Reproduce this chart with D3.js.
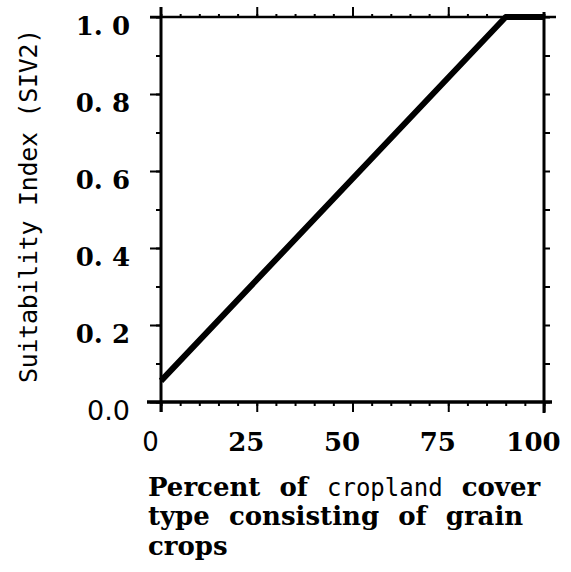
<!DOCTYPE html>
<html>
<head>
<meta charset="utf-8">
<script src="https://d3js.org/d3.v7.min.js"></script>
<style>
  body { margin: 0; background: #fff; }
  svg { display: block; }
</style>
</head>
<body>
<div id="chart"></div>
<script>
// data
var xValues = [0, 90, 100];
var yValues = [0.055, 1.0, 1.0];

var xTicks = [0, 25, 50, 75, 100];
var xTickLabels = ["0", "25", "50", "75", "100"];
var xMinor = d3.range(0, 101, 5);
var yTicks = [0, 0.2, 0.4, 0.6, 0.8, 1.0];
var yTickLabels = ["0.0", "0. 2", "0. 4", "0. 6", "0. 8", "1. 0"];
var yMinor = d3.range(0, 11, 1).map(d => d / 10);

var svgWidth = 571;
var svgHeight = 572;

var svg = d3.select("#chart")
    .append("svg")
    .attr("width", svgWidth)
    .attr("height", svgHeight);

var x = d3.scaleLinear().domain([0, 100]).range([161, 544]);
var y = d3.scaleLinear().domain([0, 1]).range([402, 17]);

var boldFont = "'DejaVu Serif', serif";
var monoFont = "'DejaVu Sans Mono', monospace";
var plainFont = "'DejaVu Sans', sans-serif";

// minor ticks
svg.append("g")
    .attr("transform", `translate(0, ${y(0)})`)
    .call(d3.axisBottom(x).tickValues(xMinor).tickSize(4).tickFormat(""));
svg.append("g")
    .attr("transform", `translate(0, ${y(1)})`)
    .call(d3.axisTop(x).tickValues(xMinor).tickSize(3).tickFormat(""));
svg.append("g")
    .attr("transform", `translate(${x(0)}, 0)`)
    .call(d3.axisLeft(y).tickValues(yMinor).tickSize(5).tickFormat(""));
svg.append("g")
    .attr("transform", `translate(${x(100)}, 0)`)
    .call(d3.axisRight(y).tickValues(yMinor).tickSize(6).tickFormat(""));

// major ticks + labels
var bottomAxis = svg.append("g")
    .attr("transform", `translate(0, ${y(0)})`)
    .call(d3.axisBottom(x).tickValues(xTicks).tickSize(10).tickPadding(21)
        .tickFormat((d, i) => xTickLabels[i]));

bottomAxis.selectAll("text")
    .attr("dx", -11)
    .attr("dy", 18)
    .style("font-family", (d, i) => i === 0 ? plainFont : boldFont)
    .style("font-weight", (d, i) => i === 0 ? "normal" : "bold")
    .style("font-size", "26px")
    .style("fill", "#000");

svg.append("g")
    .attr("transform", `translate(0, ${y(1)})`)
    .call(d3.axisTop(x).tickValues([25, 50, 75]).tickSize(10).tickFormat(""));

var leftAxis = svg.append("g")
    .attr("transform", `translate(${x(0)}, 0)`)
    .call(d3.axisLeft(y).tickValues(yTicks).tickSize(11).tickPadding(20)
        .tickFormat((d, i) => yTickLabels[i]));

leftAxis.selectAll("text")
    .attr("dy", 17)
    .style("font-family", (d, i) => i === 0 ? plainFont : boldFont)
    .style("font-weight", (d, i) => i === 0 ? "normal" : "bold")
    .style("font-size", (d, i) => i === 0 ? "27px" : "26px")
    .style("white-space", "pre")
    .style("fill", "#000");

svg.selectAll(".domain").remove();
svg.selectAll(".tick line").attr("stroke", "#000").attr("stroke-width", 2);

// frame, lines run a little past the corners
var frame = svg.append("g").attr("stroke", "#000").attr("stroke-linecap", "butt");
frame.append("line")
    .attr("x1", x(0)).attr("x2", x(0))
    .attr("y1", y(1) - 10).attr("y2", y(0) + 10)
    .attr("stroke-width", 3);
frame.append("line")
    .attr("x1", x(100)).attr("x2", x(100))
    .attr("y1", y(1) - 5).attr("y2", y(0) + 11)
    .attr("stroke-width", 3);
frame.append("line")
    .attr("x1", x(0) - 14).attr("x2", x(100) + 8)
    .attr("y1", y(0)).attr("y2", y(0))
    .attr("stroke-width", 3.5);
frame.append("line")
    .attr("x1", x(0) - 11).attr("x2", x(100) + 12)
    .attr("y1", y(1)).attr("y2", y(1))
    .attr("stroke-width", 2.5);

// the suitability curve
var lineData = xValues.map((d, i) => ({ x: d, y: yValues[i] }));
var line = d3.line()
    .x(d => x(d.x))
    .y(d => y(d.y));

svg.append("path")
    .datum(lineData)
    .attr("d", line)
    .attr("fill", "none")
    .attr("stroke", "#000")
    .attr("stroke-width", 6)
    .attr("stroke-linejoin", "round");

// y title
svg.append("text")
    .attr("transform", `translate(37, ${206}) rotate(-90)`)
    .attr("text-anchor", "middle")
    .style("font-family", monoFont)
    .style("font-size", "25px")
    .style("letter-spacing", "-0.3px")
    .style("fill", "#000")
    .text("Suitability Index (SIV2)");

// x title, three lines with one word in a plain face
var xTitle = svg.append("text")
    .attr("x", 148)
    .attr("y", 496)
    .style("font-family", boldFont)
    .style("font-weight", "bold")
    .style("font-size", "26px")
    .style("word-spacing", "10px")
    .style("fill", "#000");

xTitle.append("tspan").text("Percent of ");
xTitle.append("tspan")
    .style("font-family", monoFont)
    .style("font-weight", "normal")
    .style("font-size", "24px")
    .style("word-spacing", "0px")
    .text("cropland");
xTitle.append("tspan").text(" cover");
xTitle.append("tspan").attr("x", 148).attr("y", 525).text("type consisting of grain");
xTitle.append("tspan").attr("x", 148).attr("y", 555).text("crops");
</script>
</body>
</html>
